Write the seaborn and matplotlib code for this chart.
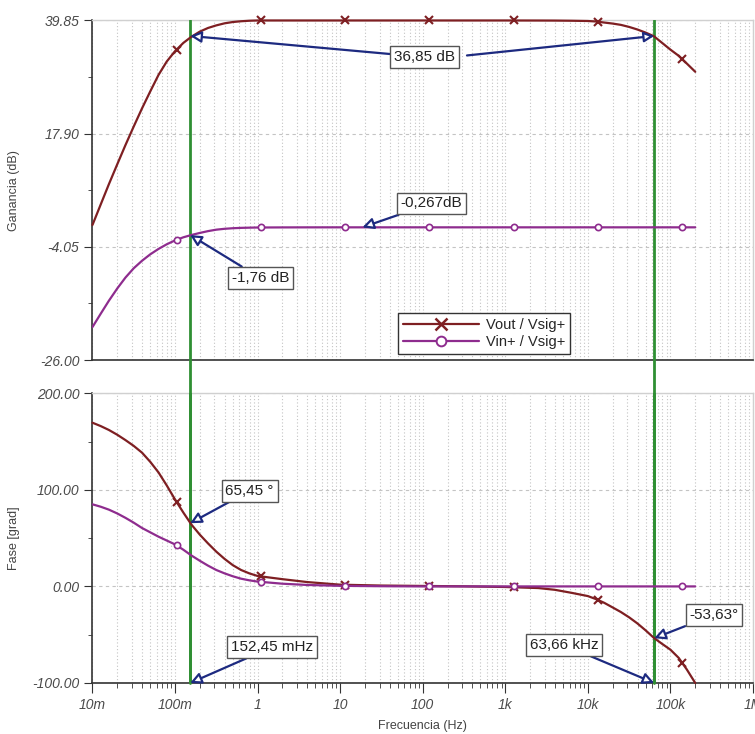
import numpy as np
import pandas as pd
import matplotlib
matplotlib.use("Agg")
import matplotlib.pyplot as plt
import seaborn as sns
from matplotlib.lines import Line2D
from matplotlib.ticker import FixedLocator, NullFormatter

# frequency grid (Hz) shared by the four traces
freq = [0.01, 0.0126, 0.0158, 0.02, 0.0251, 0.0316, 0.0398, 0.0501, 0.0631, 0.0794,
        0.1, 0.126, 0.158, 0.2, 0.251, 0.316, 0.398, 0.501, 0.631, 0.794, 1,
        2, 4, 10, 31.6, 100, 316, 1000, 2510, 3980, 6310,
        10000, 12600, 15800, 20000, 25100, 31600, 39800, 50100, 63100, 79400,
        100000, 126000, 158000, 200000]

gain_vout = [0.2, 4.2, 8.1, 12.0, 15.7, 19.3, 22.8, 26.1, 29.3, 31.9,
             33.9, 35.5, 36.7, 37.7, 38.4, 38.9, 39.3, 39.55, 39.7, 39.8, 39.85,
             39.85, 39.85, 39.85, 39.85, 39.85, 39.85, 39.85, 39.84, 39.83, 39.8,
             39.75, 39.65, 39.45, 39.25, 39.0, 38.6, 38.1, 37.5, 36.8, 35.5,
             34.2, 33.0, 31.5, 29.9]

gain_vin = [-19.6, -17.0, -14.5, -12.1, -10.0, -8.2, -6.75, -5.5, -4.45, -3.55,
            -2.8, -2.2, -1.75, -1.35, -1.0, -0.72, -0.55, -0.44, -0.37, -0.33, -0.3,
            -0.28, -0.27, -0.267, -0.267, -0.267, -0.267, -0.267, -0.267, -0.267, -0.267,
            -0.267, -0.267, -0.267, -0.267, -0.267, -0.267, -0.267, -0.267, -0.267, -0.267,
            -0.267, -0.267, -0.267, -0.267]

phase_vout = [169.5, 166, 162, 157, 151.5, 145.5, 138.5, 129, 118, 104.5,
              90, 76.5, 64, 53.5, 44.5, 36, 28.5, 22, 17, 13.5, 10.8,
              7.5, 4.5, 1.8, 0.9, 0.5, 0.1, -0.6, -1.7, -3.5, -6.6,
              -10, -13.2, -17, -21.8, -26.5, -32, -38.3, -45.5, -53.3, -59.5,
              -65.5, -74, -86, -100]

phase_vin = [85, 82.5, 79.5, 75.5, 71, 66, 60.5, 56, 51.5, 47.5,
             43.5, 38, 32, 26.5, 21.5, 17, 13.5, 10.5, 8, 6.3, 5.0,
             2.8, 1.5, 0.6, 0.2, 0, 0, 0, 0, 0, 0,
             0, 0, 0, 0, 0, 0, 0, 0, 0, 0,
             0, 0, 0, 0]

# marker positions drawn by the simulator
mark_freq = [0.106, 1.107, 11.56, 120.8, 1259, 13180, 137700]
mark_gain_vout = [34.2, 39.85, 39.85, 39.85, 39.85, 39.6, 32.4]
mark_gain_vin = [-2.7, -0.29, -0.267, -0.267, -0.267, -0.267, -0.267]
mark_phase_vout = [87, 10.6, 1.7, 0.4, -0.8, -13.8, -79]
mark_phase_vin = [43.2, 5.0, 0.5, 0, 0, 0, 0]

cursor_freq = [0.15245, 63660]
xtick_vals = [0.01, 0.1, 1, 10, 100, 1e3, 1e4, 1e5, 1e6]
xtick_labels = ['10m', '100m', '1', '10', '100', '1k', '10k', '100k', '1M']
gain_ticks = [39.85, 17.90, -4.05, -26.00]
phase_ticks = [200, 100, 0, -100]

RED = '#7e1f22'
PURPLE = '#8e2c8e'
GREEN = '#2f8f33'
NAVY = '#1d2a80'
GRID = '#c4c4c4'

sns.set_style('white')
plt.rcParams['font.family'] = ['Liberation Sans', 'DejaVu Sans']

fig = plt.figure(figsize=(7.55, 7.34), dpi=100)
ax1 = fig.add_axes([0.1225, 0.5095, 0.8748, 0.4626])
ax2 = fig.add_axes([0.1225, 0.0695, 0.8748, 0.3947])

df = pd.DataFrame({'f': freq, 'gv': gain_vout, 'gi': gain_vin,
                   'pv': phase_vout, 'pi': phase_vin})
dm = pd.DataFrame({'f': mark_freq, 'gv': mark_gain_vout, 'gi': mark_gain_vin,
                   'pv': mark_phase_vout, 'pi': mark_phase_vin})

for ax, cv, ci in [(ax1, 'gv', 'gi'), (ax2, 'pv', 'pi')]:
    sns.lineplot(data=df, x='f', y=cv, ax=ax, color=RED, lw=1.6,
                 estimator=None, sort=False, clip_on=False, zorder=4)
    sns.lineplot(data=df, x='f', y=ci, ax=ax, color=PURPLE, lw=1.6,
                 estimator=None, sort=False, zorder=4)
    ax.plot(dm['f'], dm[cv], ls='none', marker='x', ms=6, mew=1.5,
            color=RED, zorder=5, clip_on=False)
    ax.plot(dm['f'], dm[ci], ls='none', marker='o', ms=4.5, mew=1.2,
            mfc='white', color=PURPLE, zorder=5)
    ax.set_xscale('log')
    ax.set_xlim(0.01, 1e6)
    ax.xaxis.set_major_locator(FixedLocator(xtick_vals))
    ax.xaxis.set_minor_locator(FixedLocator(
        [d * m for d in xtick_vals[:-1] for m in range(2, 10)]))
    ax.grid(True, which='both', axis='x', color=GRID, ls=(0, (1, 2)), lw=0.8)
    ax.grid(True, which='major', axis='y', color=GRID, ls=(0, (3, 3)), lw=0.8)
    ax.set_axisbelow(True)
    for s in ['top', 'right']:
        ax.spines[s].set_color('#d0d0d0')
        ax.spines[s].set_linewidth(1)
    for s in ['left', 'bottom']:
        ax.spines[s].set_color('#333333')
        ax.spines[s].set_linewidth(1.2)
    ax.tick_params(axis='y', which='major', direction='out', length=6,
                   color='#333333', labelsize=10, labelcolor='#4a4a4a', left=True)
    ax.tick_params(axis='y', which='minor', direction='out', length=3,
                   color='#333333', left=True)
    ax.set_xlabel('')
    for c in cursor_freq:
        ax.axvline(c, color=GREEN, lw=2, zorder=3)

# gain axis
ax1.set_ylim(-26, 39.85)
ax1.set_yticks(gain_ticks)
ax1.set_yticklabels(['%.2f' % v for v in gain_ticks], fontstyle='italic')
ax1.yaxis.set_minor_locator(FixedLocator([28.875, 6.925, -15.025]))
ax1.tick_params(axis='x', which='both', bottom=False, labelbottom=False)
ax1.set_ylabel('Ganancia (dB)', fontsize=9, color='#444444')
ax1.yaxis.set_label_coords(-0.11, 0.5)

# phase axis
ax2.set_ylim(-100, 200)
ax2.set_yticks(phase_ticks)
ax2.set_yticklabels(['%.2f' % v for v in phase_ticks], fontstyle='italic')
ax2.yaxis.set_minor_locator(FixedLocator([150, 50, -50]))
ax2.tick_params(axis='x', which='major', direction='out', length=7,
                color='#333333', labelsize=10, labelcolor='#4a4a4a', bottom=True)
ax2.tick_params(axis='x', which='minor', direction='out', length=3.5,
                color='#333333', bottom=True)
ax2.set_xticklabels(xtick_labels, fontstyle='italic')
ax2.set_ylabel('Fase [grad]', fontsize=9, color='#444444')
ax2.yaxis.set_label_coords(-0.11, 0.5)
ax2.set_xlabel('Frecuencia (Hz)', fontsize=9, color='#444444', labelpad=6)
for c in cursor_freq:
    ax2.axvline(c, ymin=0, ymax=1.115, color=GREEN, lw=2, zorder=3, clip_on=False)

# legend
handles = [Line2D([], [], color=RED, lw=1.6, marker='x', ms=9, mew=1.8),
           Line2D([], [], color=PURPLE, lw=1.6, marker='o', ms=7, mew=1.4, mfc='white')]
leg = ax1.legend(handles, ['Vout / Vsig+', 'Vin+ / Vsig+'], loc='lower left',
                 bbox_to_anchor=(0.452, -0.003), fontsize=10.5, handlelength=5.2,
                 borderpad=0.3, labelspacing=0.25, handletextpad=0.5,
                 fancybox=False, framealpha=1, edgecolor='#333333')
leg.get_frame().set_linewidth(1)

box = dict(boxstyle='square,pad=0.25', fc='white', ec='#555555', lw=1)
arrow = dict(arrowstyle='-|>,head_length=0.6,head_width=0.3', color=NAVY,
             lw=1.6, fc='white', shrinkA=0, shrinkB=0)

def note(ax, text, xy, xytext):
    ax.annotate(text, xy=xy, xytext=xytext, textcoords='axes fraction',
                fontsize=11, color='#222222', ha='center', va='center',
                bbox=box, arrowprops=arrow, zorder=6)

note(ax1, '36,85 dB', (cursor_freq[0], 36.85), (0.503, 0.892))
ax1.annotate('', xy=(cursor_freq[1], 36.85), xytext=(0.567, 0.897),
             textcoords='axes fraction', arrowprops=arrow, zorder=6)
note(ax1, '-0,267dB', (18.6, -0.267), (0.513, 0.461))
note(ax1, '-1,76 dB', (cursor_freq[0], -1.76), (0.254, 0.242))
note(ax2, '65,45 °', (cursor_freq[0], 65.45), (0.238, 0.663))
note(ax2, '152,45 mHz', (cursor_freq[0], -100), (0.272, 0.124))
note(ax2, '63,66 kHz', (cursor_freq[1], -100), (0.714, 0.131))
note(ax2, '-53,63°', (cursor_freq[1], -53.63), (0.941, 0.235))

fig.savefig('out.png', dpi=100)
